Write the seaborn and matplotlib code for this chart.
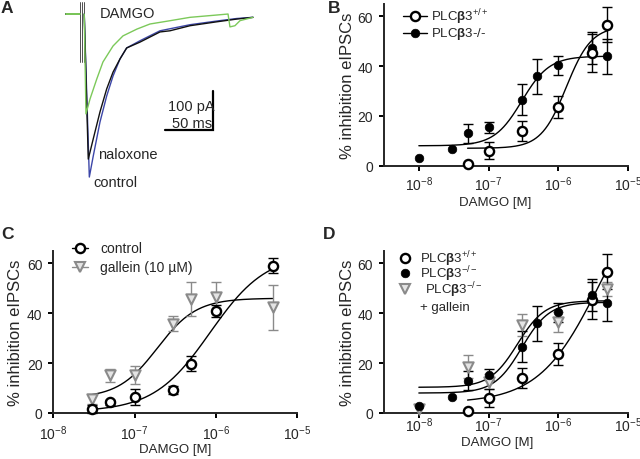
import numpy as np
import pandas as pd
import matplotlib
matplotlib.use("Agg")
import matplotlib.pyplot as plt
from matplotlib.lines import Line2D
import matplotlib.ticker as mticker
import seaborn as sns

# ------------------------------------------------------------------ data
# Panel A: example eIPSC traces (time in ms, current in pA)
base_t = [0.0, 14.2]
base_i = [0.0, 0.0]
artifact_t = [14.9, 16.7, 18.5]
artifact_top, artifact_bottom = 31.0, -123.0

green_t = [19, 20.8, 25, 32, 38.5, 49, 59.4, 74, 87.5, 108.3, 129.2, 157, 168.8, 170.8, 176, 181.3, 194.8]
green_i = [0, -256, -218, -167, -123, -82, -56, -38.5, -25.6, -17.2, -8.5, -2.6, 0, -33, -30, -17, -8.5]
black_t = [19, 23.2, 28.4, 35.4, 42.4, 49, 56.3, 63.2, 77.1, 97.9, 108.3, 129.2, 157, 177.8, 194.8]
black_i = [0, -372, -320, -251, -192, -149, -115, -87, -72, -46, -43, -30, -20, -13, -8.5]
blue_t = [19, 24.3, 28.4, 35.4, 42.4, 49, 56.3, 63.2, 77.1, 97.9, 129.2, 157, 177.8, 194.8]
blue_i = [0, -418, -364, -277, -210, -159, -115, -87, -68.5, -43, -27.4, -18, -11.5, -8.5]

# Panel B
B_wt_conc = [5e-8, 1e-7, 3e-7, 1e-6, 3e-6, 5e-6]
B_wt_mean = [0.8, 6.1, 14.0, 23.6, 45.2, 56.6]
B_wt_sem = [0.0, 3.5, 4.0, 4.5, 7.5, 7.0]
B_ko_conc = [1e-8, 3e-8, 5e-8, 1e-7, 3e-7, 5e-7, 1e-6, 3e-6, 5e-6]
B_ko_mean = [3.0, 6.6, 13.0, 15.4, 26.5, 35.9, 40.4, 47.3, 43.9]
B_ko_sem = [0.0, 0.0, 3.7, 2.3, 6.2, 7.0, 3.8, 6.5, 7.0]

# Panel C
C_conc = [3e-8, 5e-8, 1e-7, 3e-7, 5e-7, 1e-6, 5e-6]
C_ctrl_mean = [1.7, 4.4, 6.4, 9.2, 19.7, 41.0, 59.1]
C_ctrl_sem = [1.5, 1.0, 3.1, 1.5, 3.0, 2.4, 3.0]
C_gal_mean = [5.8, 15.1, 15.3, 35.7, 45.7, 46.4, 42.4]
C_gal_sem = [2.0, 2.5, 3.6, 3.0, 7.0, 6.2, 9.0]

# Panel D (PLCb3+/+ and -/- as in B, plus -/- + gallein)
D_gal_conc = [1e-8, 5e-8, 1e-7, 3e-7, 1e-6, 5e-6]
D_gal_mean = [1.5, 18.6, 12.5, 35.3, 36.3, 49.7]
D_gal_sem = [0.0, 4.5, 3.0, 4.5, 4.0, 3.0]

# Fitted dose-response curves: bottom, top, logEC50, hill, log x start, log x end
fit_B_wt = (7.0, 56.0, -5.886, 2.4, np.log10(5e-8), np.log10(5e-6))
fit_B_ko = (8.0, 44.0, -6.523, 2.2, -8.0, np.log10(5e-6))
fit_C_ctrl = (0.5, 64.0, -6.07, 1.25, np.log10(3e-8), np.log10(5e-6))
fit_C_gal = (6.0, 46.0, -6.72, 1.8, np.log10(3e-8), np.log10(5e-6))
fit_D_wt = (4.0, 100.0, -5.40, 1.0, np.log10(5e-8), np.log10(5e-6))
fit_D_ko = (8.0, 44.4, -6.523, 2.2, -8.0, np.log10(5e-6))
fit_D_gal = (10.3, 45.0, -6.585, 2.2, -8.0, np.log10(5e-6))

xticks = [1e-8, 1e-7, 1e-6, 1e-5]
xtick_labels = ["10$^{-8}$", "10$^{-7}$", "10$^{-6}$", "10$^{-5}$"]
yticks = [0, 20, 40, 60]

# ------------------------------------------------------------------ style
sns.set_style("ticks")
plt.rcParams["font.family"] = ["Liberation Sans", "DejaVu Sans"]
plt.rcParams["mathtext.fontset"] = "custom"
plt.rcParams["mathtext.rm"] = "Liberation Sans"
plt.rcParams["mathtext.it"] = "Liberation Sans:italic"
plt.rcParams["mathtext.bf"] = "Liberation Sans:bold"

W, H = 640, 460
fig = plt.figure(figsize=(6.4, 4.6), dpi=100)


def fx(x):
    return x / W


def fy(y):
    return 1 - y / H


def add_ax(l, r, t, b):
    return fig.add_axes([l / W, 1 - b / H, (r - l) / W, (b - t) / H])


GRAY = "#8a8a8a"
TRI_FACE = "#e4e4e4"
LW_AX = 1.4
MS_OPEN = 6.6
MS_FILL = 6.2
MS_TRI = 7.4


def hill_curve(ax, p, color="black"):
    b, t, logec, h, lo, hi = p
    xs = np.logspace(lo, hi, 300)
    ys = b + (t - b) / (1 + 10 ** ((logec - np.log10(xs)) * h))
    sns.lineplot(x=xs, y=ys, ax=ax, color=color, lw=1.0, zorder=2)


def points(ax, x, y, e, kind):
    if kind == "open":
        ec, fc, m, ms, mew, bc = "black", "white", "o", MS_OPEN, 1.7, "black"
    elif kind == "fill":
        ec, fc, m, ms, mew, bc = "black", "black", "o", MS_FILL, 0.5, "black"
    else:
        ec, fc, m, ms, mew, bc = GRAY, TRI_FACE, "v", MS_TRI, 1.5, GRAY
    xe = [xx for xx, ee in zip(x, e) if ee > 0]
    ye = [yy for yy, ee in zip(y, e) if ee > 0]
    ee = [v for v in e if v > 0]
    ax.errorbar(xe, ye, yerr=ee, fmt="none", ecolor=bc, elinewidth=1.0,
                capsize=3.8, capthick=1.0, zorder=3, clip_on=False)
    sns.scatterplot(x=x, y=y, ax=ax, marker=m, s=ms ** 2, facecolor=fc,
                    edgecolor=ec, linewidth=mew, zorder=4, clip_on=False)


def style_dose_ax(ax, xlo, tick_pad):
    ax.set_xscale("log")
    ax.set_xlim(xlo, 1e-5)
    ax.set_ylim(0, 65)
    ax.xaxis.set_major_locator(mticker.FixedLocator(xticks))
    ax.xaxis.set_major_formatter(mticker.FixedFormatter(xtick_labels))
    ax.xaxis.set_minor_locator(mticker.NullLocator())
    ax.set_yticks(yticks)
    for s in ["top", "right"]:
        ax.spines[s].set_visible(False)
    for s in ["left", "bottom"]:
        ax.spines[s].set_linewidth(LW_AX)
    ax.tick_params(axis="both", direction="out", length=3.8, width=LW_AX,
                   labelsize=10, color="black")
    ax.tick_params(axis="x", pad=tick_pad)
    ax.tick_params(axis="y", pad=4.0)
    ax.set_facecolor("none")


def leg_entry(xc, y, kind, label, x_text, line=None, fs=9.5):
    if line is not None:
        c = GRAY if kind == "tri" else "black"
        fig.add_artist(Line2D([fx(line[0]), fx(line[1])], [fy(y), fy(y)],
                              color=c, lw=1.0))
    if kind == "open":
        kw = dict(marker="o", ms=MS_OPEN, mfc="white", mec="black", mew=1.7)
    elif kind == "fill":
        kw = dict(marker="o", ms=MS_FILL, mfc="black", mec="black", mew=0.5)
    else:
        kw = dict(marker="v", ms=MS_TRI, mfc=TRI_FACE, mec=GRAY, mew=1.5)
    fig.add_artist(Line2D([fx(xc)], [fy(y)], ls="none", **kw))
    fig.text(fx(x_text), fy(y), label, ha="left", va="center", fontsize=fs)


BETA = r"$\mathbf{β}$"
YLAB_FS = 12
XLAB_FS = 9.5

# ------------------------------------------------------------------ Panel A
axA = add_ax(60, 260, 0, 195)
axA.set_xlim(-6.25, 202.1)
axA.set_ylim(-461.5, 38.5)
axA.axis("off")
for tt in artifact_t:
    axA.plot([tt, tt], [artifact_top, artifact_bottom], color="#333333", lw=0.6)
for c in ["#3c46a8", "#111111", "#7cc95a"]:
    sns.lineplot(x=base_t, y=base_i, ax=axA, color=c, lw=1.4, estimator=None)
sns.lineplot(x=blue_t, y=blue_i, ax=axA, color="#3c46a8", lw=1.0, sort=False, estimator=None)
sns.lineplot(x=black_t, y=black_i, ax=axA, color="#111111", lw=1.0, sort=False, estimator=None)
sns.lineplot(x=green_t, y=green_i, ax=axA, color="#7cc95a", lw=1.0, sort=False, estimator=None)
# scale bar 50 ms x 100 pA
axA.plot([103.1, 153.1, 153.1], [-297, -297, -197], color="black", lw=1.6,
         solid_joinstyle="miter")
axA.text(154.5, -236, "100 pA", ha="right", va="center", fontsize=10.5)
axA.text(152, -280, "50 ms", ha="right", va="center", fontsize=10.5)
axA.text(35.4, 2.6, "DAMGO", ha="left", va="center", fontsize=10.5)
axA.text(33.3, -359, "naloxone", ha="left", va="center", fontsize=10.5)
axA.text(28.1, -431, "control", ha="left", va="center", fontsize=10.5)

# ------------------------------------------------------------------ Panel B
axB = add_ax(384, 628, 166.7 - 65 * 2.49, 166.7)
hill_curve(axB, fit_B_wt)
hill_curve(axB, fit_B_ko)
points(axB, B_ko_conc, B_ko_mean, B_ko_sem, "fill")
points(axB, B_wt_conc, B_wt_mean, B_wt_sem, "open")
style_dose_ax(axB, 10 ** -8.5, 2.6)
axB.set_xlabel("DAMGO [M]", fontsize=XLAB_FS)
axB.set_ylabel("% inhibition eIPSCs", fontsize=YLAB_FS)
axB.xaxis.set_label_coords((495 - 384) / 244, -(203 - 166.7) / 161.9)
axB.yaxis.set_label_coords((348 - 384) / 244, 0.5)
axB.xaxis.label.set_va("center")
axB.yaxis.label.set_va("center")
leg_entry(415, 17.3, "open", "PLC" + BETA + "3$^{+/+}$", 431, line=(403, 427))
leg_entry(415, 34.3, "fill", "PLC" + BETA + "3-/-", 431, line=(403, 427))

# ------------------------------------------------------------------ Panel C
axC = add_ax(53.3, 297, 414 - 65 * 2.495, 414)
hill_curve(axC, fit_C_ctrl)
hill_curve(axC, fit_C_gal)
points(axC, C_conc, C_gal_mean, C_gal_sem, "tri")
points(axC, C_conc, C_ctrl_mean, C_ctrl_sem, "open")
style_dose_ax(axC, 1e-8, 3.6)
axC.set_xlabel("DAMGO [M]", fontsize=XLAB_FS)
axC.set_ylabel("% inhibition eIPSCs", fontsize=YLAB_FS)
axC.xaxis.set_label_coords(0.5, -(450 - 414) / 162.2)
axC.yaxis.set_label_coords((15 - 53.3) / 243.7, 0.5)
axC.xaxis.label.set_va("center")
axC.yaxis.label.set_va("center")
leg_entry(80, 249.3, "open", "control", 100, line=(72, 88), fs=10)
leg_entry(80, 267.7, "tri", "gallein (10 µM)", 100, line=(72, 88), fs=10)

# ------------------------------------------------------------------ Panel D
axD = add_ax(384, 628, 414 - 65 * 2.495, 414)
hill_curve(axD, fit_D_wt)
hill_curve(axD, fit_D_ko)
hill_curve(axD, fit_D_gal)
points(axD, D_gal_conc, D_gal_mean, D_gal_sem, "tri")
points(axD, B_wt_conc, B_wt_mean, B_wt_sem, "open")
points(axD, B_ko_conc, B_ko_mean, B_ko_sem, "fill")
style_dose_ax(axD, 10 ** -8.5, -1.9)
axD.set_xlabel("DAMGO [M]", fontsize=XLAB_FS)
axD.set_ylabel("% inhibition eIPSCs", fontsize=YLAB_FS)
axD.xaxis.set_label_coords((497 - 384) / 244, -(443 - 414) / 162.2)
axD.yaxis.set_label_coords((348 - 384) / 244, 0.5)
axD.xaxis.label.set_va("center")
axD.yaxis.label.set_va("center")
leg_entry(405, 259.3, "open", "PLC" + BETA + "3$^{+/+}$", 420)
leg_entry(405, 274.3, "fill", "PLC" + BETA + "3$^{-/-}$", 420)
leg_entry(405, 290.0, "tri", "PLC" + BETA + "3$^{-/-}$", 425)
fig.text(fx(420), fy(307.7), "+ gallein", ha="left", va="center", fontsize=9.5)

# ------------------------------------------------------------------ panel letters
for letter, (x, y) in {"A": (1, 1), "B": (328, 1), "C": (1, 227), "D": (323, 227)}.items():
    fig.text(fx(x), fy(y), letter, ha="left", va="top", fontsize=12.5, fontweight="bold")

fig.savefig("out.png", dpi=100)
